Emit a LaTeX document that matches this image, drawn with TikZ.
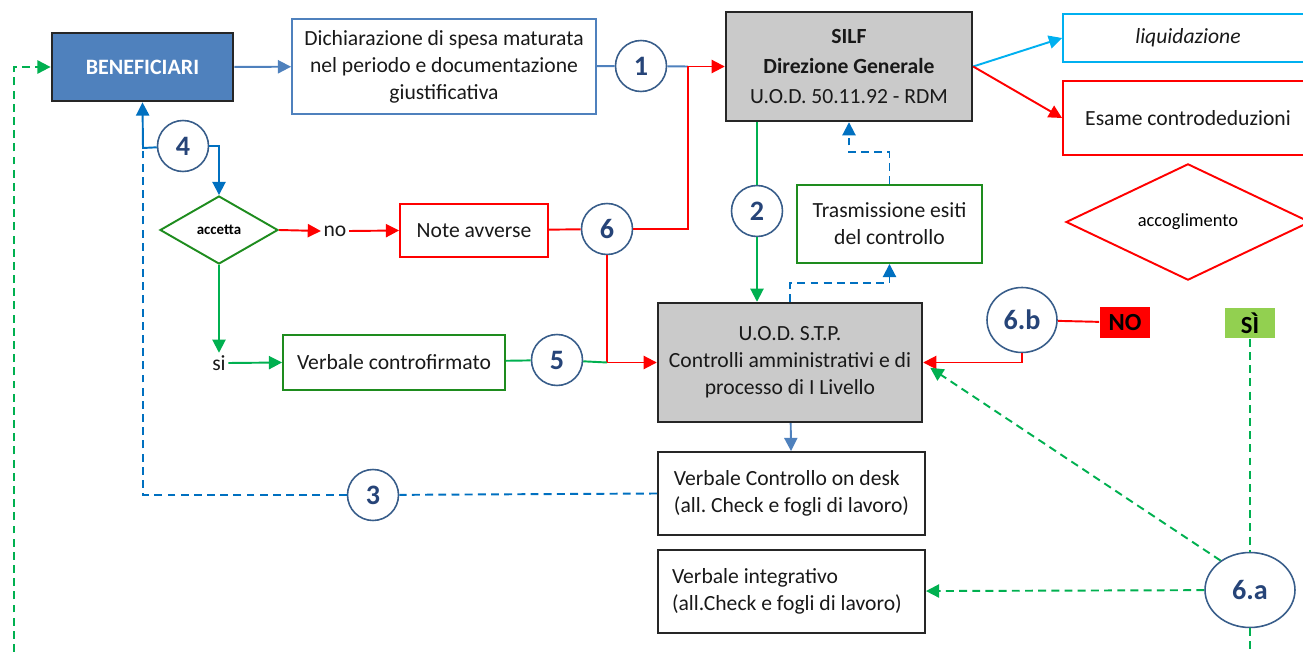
\documentclass[tikz,border=0pt]{standalone}
\usepackage{fontspec}
\setmainfont{Carlito}
\usetikzlibrary{arrows.meta,shapes.geometric}
\frenchspacing
\definecolor{benBlue}{HTML}{4F81BD}
\definecolor{lnBlue}{HTML}{0070C0}
\definecolor{numBlue}{HTML}{385D8A}
\definecolor{numText}{HTML}{264478}
\definecolor{cyanB}{HTML}{00B0F0}
\definecolor{redL}{HTML}{FF0000}
\definecolor{greenL}{HTML}{00B050}
\definecolor{greenB}{HTML}{1E8C1E}
\definecolor{grayF}{HTML}{CACACA}
\definecolor{siGreen}{HTML}{92D050}

\begin{document}
\begin{tikzpicture}[x=0.02cm, y=-0.02cm, line width=1.1pt,
    font=\fontsize{12.3}{15.3}\selectfont,
    >={Triangle[length=7.5pt,width=7.5pt]},
    box/.style={draw,rectangle,inner sep=2pt,align=center,text=black!90},
    num/.style={circle,draw=numBlue,fill=white,line width=0.9pt,minimum size=1.02cm,
                inner sep=0pt,font=\fontsize{16}{16}\bfseries\selectfont,text=numText},
    oval/.style={ellipse,draw=numBlue,fill=white,line width=0.9pt,inner sep=0pt,
                font=\fontsize{16}{16}\bfseries\selectfont,text=numText},
    dashln/.style={dash pattern=on 4.5pt off 3pt},
    lbl/.style={inner sep=1pt,text=black!90}]
    \clip (0,0) rectangle (1303,652);

    % boxes
    \node[box,fill=benBlue,draw=black!85,line width=1.6pt,minimum width=3.62cm,minimum height=1.36cm,
          text=white,font=\fontsize{12.5}{15}\bfseries\selectfont] (benef) at (142.5,67) {BENEFICIARI};
    \node[box,draw=benBlue,minimum width=6.08cm,minimum height=1.9cm] (dich) at (444,66.5)
        {Dichiarazione di spesa maturata\\nel periodo e documentazione\\giustificativa};
    \node[box,fill=grayF,draw=black!85,line width=1.4pt,minimum width=4.92cm,minimum height=2.18cm] (silf) at (849,66.5)
        {\textbf{SILF}\\[1.5pt]\textbf{Direzione Generale}\\[1.5pt]U.O.D. 50.11.92 - RDM};
    \node[box,draw=cyanB,minimum width=5cm,minimum height=0.96cm] (liq) at (1188,38) {\textit{liquidazione}};
    \node[box,draw=redL,minimum width=5cm,minimum height=1.48cm] (esame) at (1188,118) {Esame controdeduzioni};
    \node[diamond,draw=redL,minimum width=4.88cm,minimum height=1.94cm,inner sep=0pt,
          font=\fontsize{10.5}{12}\selectfont] (accogl) at (1188,222) {accoglimento};
    \node[diamond,draw=greenB,minimum width=2.36cm,minimum height=1.36cm,inner sep=0pt,
          font=\fontsize{8.5}{10}\bfseries\selectfont] (acc) at (219,230) {accetta};
    \node[box,draw=redL,minimum width=2.96cm,minimum height=1.06cm] (note) at (474,230.5) {Note avverse};
    \node[box,draw=greenB,minimum width=3.7cm,minimum height=1.56cm] (trasm) at (889.5,224)
        {Trasmissione esiti\\del controllo};
    \node[box,fill=grayF,draw=black!85,line width=1.4pt,minimum width=5.28cm,minimum height=2.38cm] (stp) at (790,362.5)
        {U.O.D. S.T.P.\\Controlli amministrativi e di\\processo di I Livello};
    \node[box,draw=greenB,minimum width=4.44cm,minimum height=1.1cm] (contro) at (394,362.5) {Verbale controfirmato};
    \node[box,draw=black!85,minimum width=5.34cm,minimum height=1.66cm,align=left] (desk) at (791.5,493.5)
        {Verbale Controllo on desk\\(all. Check e fogli di lavoro)};
    \node[box,draw=black!85,minimum width=5.34cm,minimum height=1.66cm,align=left] (integ) at (791.5,591.5)
        {Verbale integrativo\hphantom{ on desk}\\(all.Check e fogli di lavoro)};
    \node[fill=redL,minimum width=1cm,minimum height=0.62cm,inner sep=0pt,
          font=\fontsize{14}{14}\bfseries\selectfont] (nobox) at (1125,322.5) {NO};
    \node[fill=siGreen,minimum width=1cm,minimum height=0.6cm,inner sep=0pt,
          font=\fontsize{14}{14}\bfseries\selectfont] (sibox) at (1250,323) {SÌ};

    % labels
    \node[lbl] (nolab) at (335,231) {no};
    \node[lbl] (silab) at (219,363) {si};

    % numbered circles
    \node[num] (c1) at (641,66) {1};
    \node[num] (c2) at (757,211) {2};
    \node[num] (c3) at (373,495) {3};
    \node[num] (c4) at (183,146) {4};
    \node[num] (c5) at (557,360) {5};
    \node[num] (c6) at (607,229) {6};
    \node[oval,minimum width=1.4cm,minimum height=1.3cm] (c6b) at (1022,320) {6.b};
    \node[oval,minimum width=1.8cm,minimum height=1.5cm] (c6a) at (1250,590) {6.a};

    \coordinate (j1) at (688,66.5);
    \coordinate (j4) at (143,148);
    \coordinate (j6) at (607,362.5);
    \coordinate (bl) at (14,652);
    \coordinate (br) at (1250,652);

    % connectors
    \draw[->,benBlue] (benef) -- (dich);
    \draw[benBlue] (dich) -- (c1);
    \draw[benBlue] (c1) -- (j1);
    \draw[->,redL] (j1) -- (silf);
    \draw[redL] (note) -- (c6);
    \draw[redL] (c6.east) -| (j1);
    \draw[redL] (c6) -- (j6);
    \draw[greenL] (contro) -- (c5);
    \draw[greenL] (c5) -- (j6);
    \draw[->,redL] (j6) -- (stp);
    \draw[->,cyanB] (silf.east) -- (liq.west);
    \draw[->,redL] (silf.east) -- (esame.west);
    \draw[greenL] (silf.south -| c2) -- (c2);
    \draw[->,greenL] (c2) -- (c2 |- stp.north);
    \draw[->,lnBlue,dashln] (trasm.north) -- ++(0,-32) -| (silf.south);
    \draw[->,lnBlue,dashln] (stp.north) -- ++(0,-19) -| (trasm.south);
    \draw[->,benBlue] (stp) -- (desk);
    \draw[lnBlue,dashln] (desk.west) -- (c3);
    \draw[lnBlue,dashln] (c3) -| (j4);
    \draw[->,lnBlue] (c4) -- (j4) -- (benef.south);
    \draw[->,lnBlue] (c4.east) -| (acc.north);
    \draw[->,redL] (acc.east) -- (nolab.west);
    \draw[->,redL] (nolab.east) -- (note.west);
    \draw[->,greenL] (acc.south) -- (silab.north);
    \draw[->,greenL] (silab.east) -- (contro.west);
    \draw[redL] (c6b) -- (nobox);
    \draw[->,redL] (c6b.south) |- (stp.east);
    \draw[greenL,dashln] (sibox) -- (c6a);
    \draw[->,greenL,dashln] (c6a.135) -- ([yshift=-3pt,xshift=4pt]stp.east);
    \draw[->,greenL,dashln] (c6a) -- (integ);
    \draw[greenL,dashln] (c6a) -- (br);
    \draw[->,greenL,dashln] (bl) |- (benef.west);
\end{tikzpicture}
\end{document}
